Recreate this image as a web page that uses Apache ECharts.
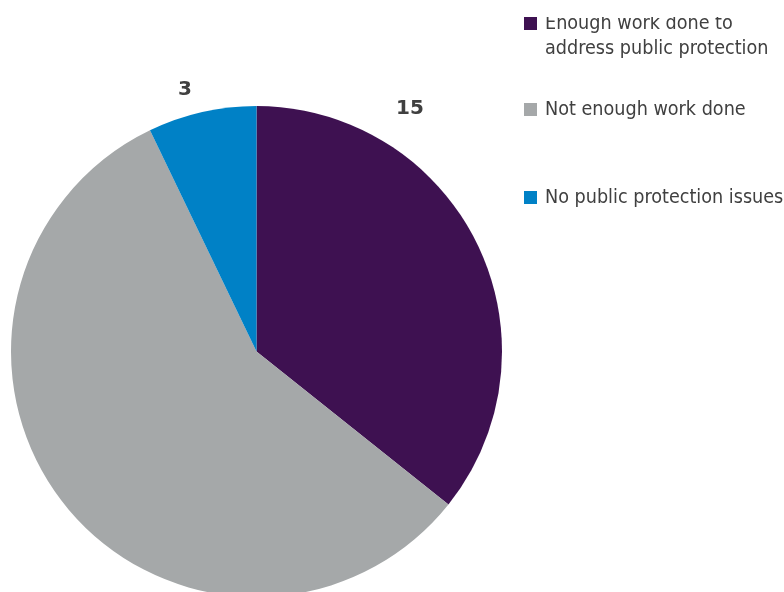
<!DOCTYPE html>
<html>
<head>
<meta charset="utf-8">
<script src="https://cdn.jsdelivr.net/npm/echarts@6/dist/echarts.min.js"></script>
<style>
html,body{margin:0;padding:0;background:#fff;}
#chart{width:784px;height:592px;}
</style>
</head>
<body>
<div id="chart"></div>
<script>
// ---- data ----
var categories = ['Enough work done to\naddress public protection', 'Not enough work done', 'No public protection issues'];
var values = [15, 24, 3];
var colors = ['#3e1151', '#a5a8a9', '#0081c6'];

// ---- layout / style ----
var labelPos = [[410, 109], [68, 550], [185, 90]];
var legendTops = [-14, 97, 185];
var textColor = '#404040';
var legendFont = 'DejaVu Sans Condensed';

var chart = echarts.init(document.getElementById('chart'), null, {renderer: 'canvas'});

var legends = categories.map(function (c, i) {
  return {
    data: [c],
    orient: 'vertical',
    left: 524,
    top: legendTops[i],
    padding: 0,
    icon: 'rect',
    itemWidth: 13,
    itemHeight: 13,
    selectedMode: false,
    formatter: function (n) {
      return i === 0 ? ' \n' + n : n;
    },
    textStyle: {
      fontFamily: legendFont,
      fontSize: 19.6,
      lineHeight: 25,
      color: textColor,
      padding: [0, 0, 0, 3]
    }
  };
});

var option = {
  backgroundColor: '#ffffff',
  animation: false,
  color: colors,
  legend: legends,
  graphic: [{
    type: 'rect',
    z: 100,
    shape: {x: 541, y: 0, width: 243, height: 17},
    style: {fill: '#ffffff'}
  }],
  series: [{
    type: 'pie',
    center: [256.5, 351.5],
    radius: 245.5,
    startAngle: 90,
    clockwise: true,
    data: categories.map(function (c, i) {
      return {name: c, value: values[i], itemStyle: {color: colors[i]}};
    }),
    itemStyle: {borderWidth: 0},
    emphasis: {disabled: true},
    label: {
      show: true,
      position: 'outside',
      formatter: '{c}',
      fontFamily: 'DejaVu Sans',
      fontWeight: 'bold',
      fontSize: 20,
      color: textColor
    },
    labelLine: {show: false},
    labelLayout: function (p) {
      var pos = labelPos[p.dataIndex];
      return {x: pos[0], y: pos[1], align: 'center', verticalAlign: 'middle'};
    }
  }]
};
chart.setOption(option);
</script>
</body>
</html>
